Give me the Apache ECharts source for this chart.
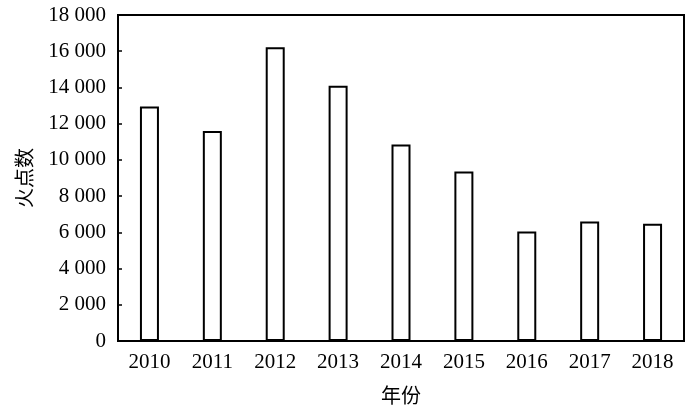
<!DOCTYPE html>
<html>
<head>
<meta charset="utf-8">
<script src="https://cdn.jsdelivr.net/npm/echarts@6/dist/echarts.min.js"></script>
<style>html,body{margin:0;padding:0;background:#fff;}#c{width:700px;height:411px;}</style>
</head>
<body>
<div id="c"></div>
<script>
var years = ['2010','2011','2012','2013','2014','2015','2016','2017','2018'];
var firePoints = [12950, 11600, 16220, 14100, 10850, 9360, 6050, 6600, 6480];
var yTicks = [0, 2000, 4000, 6000, 8000, 10000, 12000, 14000, 16000, 18000];

var FONT = '"Liberation Serif", "Times New Roman", "Noto Sans CJK SC", serif';
function fmt(v){
  var s = String(Math.round(v));
  return s.replace(/\B(?=(\d{3})+(?!\d))/g, ' ');
}
var chart = echarts.init(document.getElementById('c'), null, {renderer:'canvas'});
chart.setOption({
  backgroundColor: '#fff',
  animation: false,
  textStyle: {fontFamily: FONT},
  grid: {left: 118, top: 15, width: 566, height: 326, show: true, borderColor: '#000', borderWidth: 2, backgroundColor: 'transparent'},
  xAxis: {
    type: 'category',
    data: years,
    name: '年份',
    nameLocation: 'middle',
    nameGap: 44,
    nameTextStyle: {color: '#000', fontSize: 20, fontFamily: '"Noto Sans CJK SC", serif'},
    axisLine: {lineStyle: {color: '#000', width: 2}},
    axisTick: {show: false},
    axisLabel: {color: '#000', fontSize: 21, fontFamily: FONT, margin: 11}
  },
  yAxis: {
    type: 'value',
    min: yTicks[0],
    max: yTicks[yTicks.length-1],
    interval: 2000,
    name: '火点数',
    nameLocation: 'middle',
    nameRotate: 90,
    nameGap: 84,
    nameTextStyle: {color: '#000', fontSize: 20, fontFamily: '"Noto Sans CJK SC", serif'},
    axisLine: {show: true, lineStyle: {color: '#000', width: 2}},
    axisTick: {show: true, inside: true, length: 4, lineStyle: {color: '#000', width: 1.5}},
    splitLine: {show: false},
    axisLabel: {color: '#000', fontSize: 21, fontFamily: FONT, margin: 12, formatter: fmt}
  },
  series: [{
    type: 'bar',
    data: firePoints,
    barWidth: 19,
    itemStyle: {color: '#fff', borderColor: '#000', borderWidth: 2}
  }]
});
</script>
</body>
</html>
